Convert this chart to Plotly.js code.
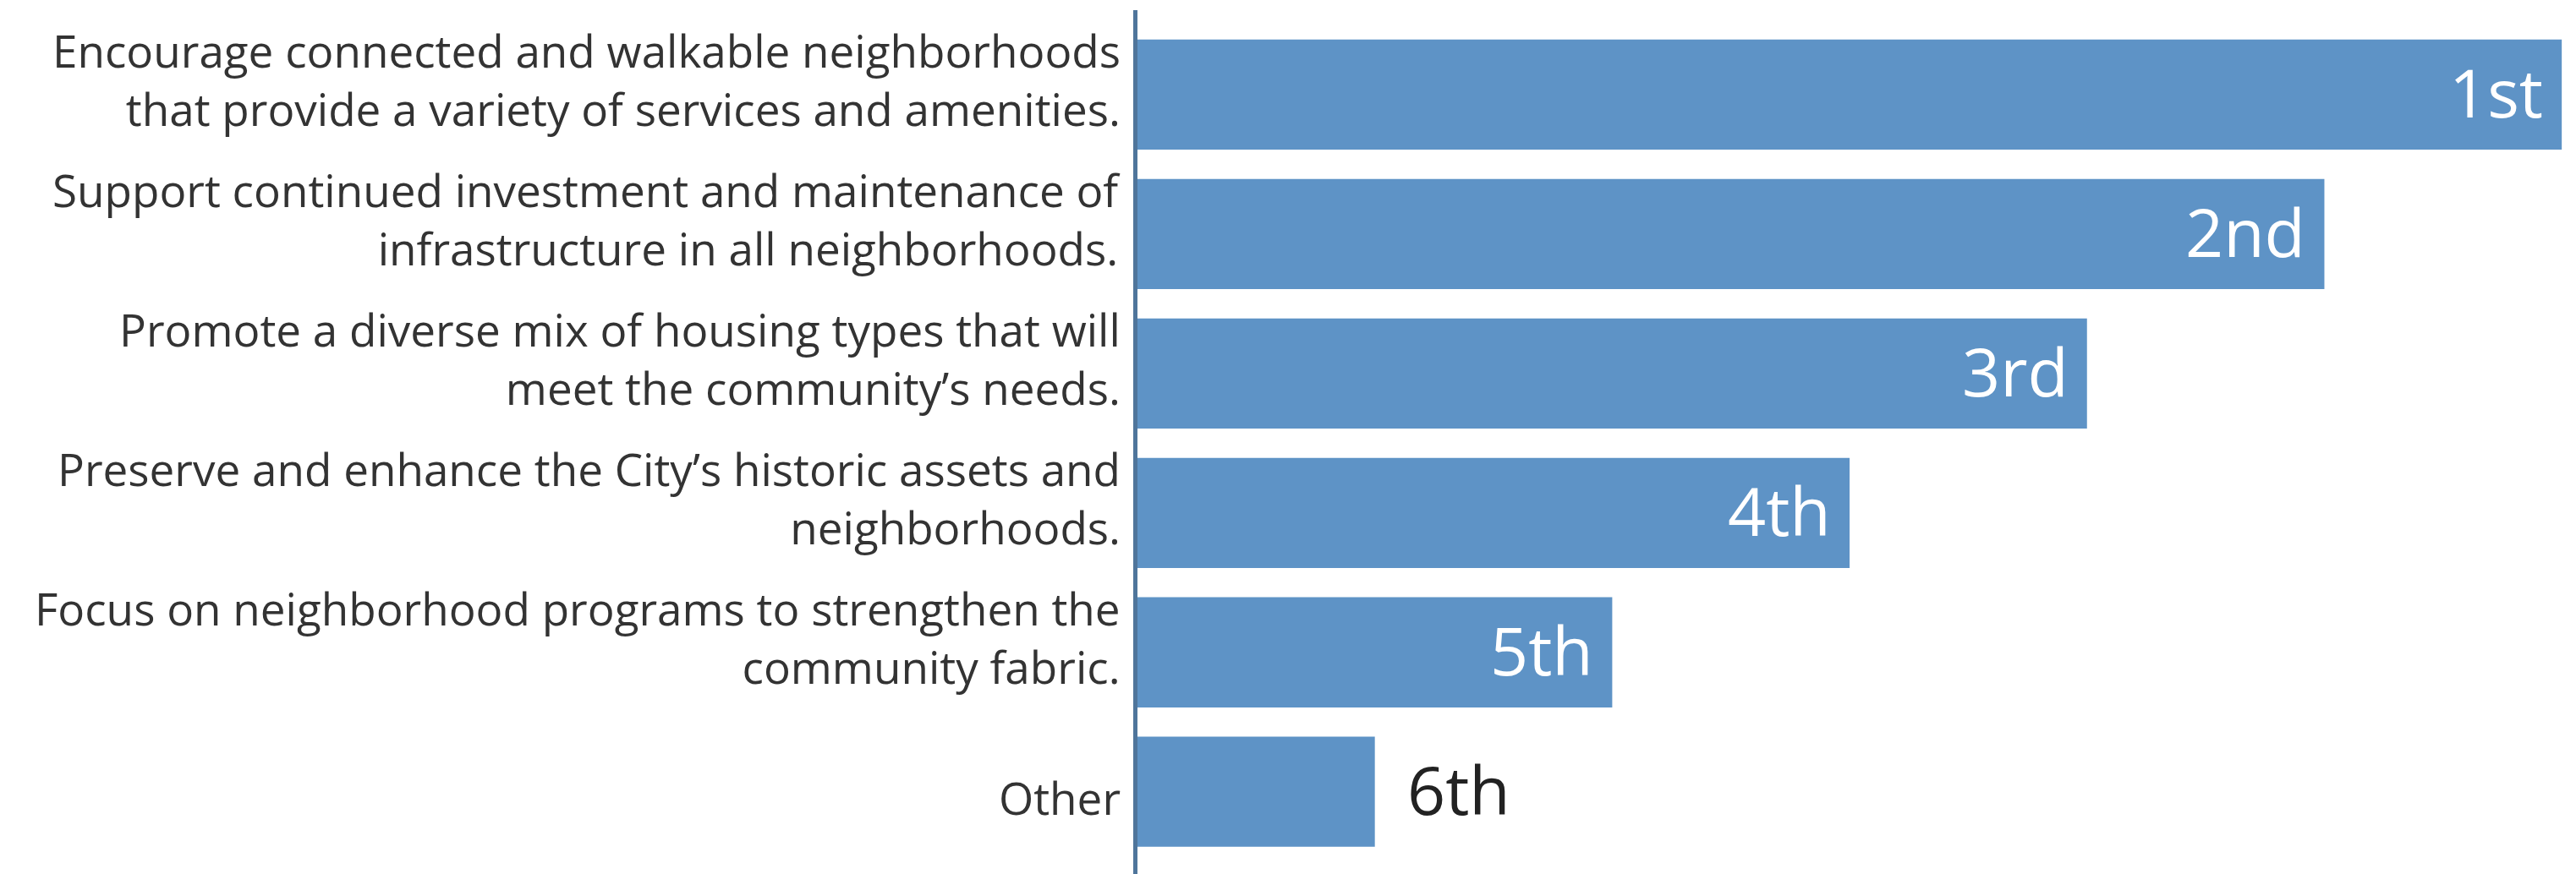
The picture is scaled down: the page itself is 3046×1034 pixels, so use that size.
<!DOCTYPE html>
<html>
<head>
<meta charset="utf-8">
<script src="https://cdn.plot.ly/plotly-3.0.1.min.js"></script>
<style>
  html, body { margin: 0; padding: 0; background: #ffffff; }
  #chart { width: 3046px; height: 1034px; }
</style>
</head>
<body>
<div id="chart"></div>
<script>
const categories = [
  "Encourage connected and walkable neighborhoods<br>that provide a variety of services and amenities.",
  "Support continued investment and maintenance of<br>infrastructure in all neighborhoods.",
  "Promote a diverse mix of housing types that will<br>meet the community’s needs.",
  "Preserve and enhance the City’s historic assets and<br>neighborhoods.",
  "Focus on neighborhood programs to strengthen the<br>community fabric.",
  "Other"
];
const scores = [6, 5, 4, 3, 2, 1];
const rankLabels = ["1st", "2nd", "3rd", "4th", "5th", "6th"];
const insideFlags = [true, true, true, true, true, false];

const FONT = "'Open Sans', 'Noto Sans', sans-serif";
const BAR_COLOR = "#5e93c6";

const trace = {
  type: "bar",
  orientation: "h",
  x: scores,
  y: categories,
  marker: { color: BAR_COLOR, line: { width: 0 } },
  hoverinfo: "none",
  showlegend: false
};

const annotations = [];
scores.forEach((v, i) => {
  annotations.push({
    x: v, y: categories[i], xref: "x", yref: "y",
    text: rankLabels[i], showarrow: false,
    xanchor: insideFlags[i] ? "right" : "left",
    xshift: insideFlags[i] ? -20 : 36,
    yshift: 3,
    font: { family: FONT, size: 79, color: insideFlags[i] ? "#ffffff" : "#222222" }
  });
});
categories.forEach((c) => {
  const multi = c.indexOf("<br>") >= 0;
  annotations.push({
    x: 0, y: c, xref: "paper", yref: "y",
    text: c, showarrow: false, align: "right",
    xanchor: "right", xshift: -18, yshift: multi ? 18 : -7,
    font: { family: FONT, size: 53, color: "#333333" }
  });
});

const layout = {
  width: 3046,
  height: 1034,
  margin: { l: 1345, r: 0, t: 12, b: 0, pad: 0 },
  paper_bgcolor: "#ffffff",
  plot_bgcolor: "#ffffff",
  bargap: 0.21,
  font: { family: FONT, color: "#333333" },
  xaxis: {
    range: [0, 6.06],
    showgrid: false, zeroline: false, showline: false,
    showticklabels: false, ticks: ""
  },
  yaxis: {
    type: "category",
    categoryorder: "array",
    categoryarray: categories,
    range: [5.59, -0.606],
    showgrid: false, zeroline: false,
    showline: true, linecolor: "#4f759b", linewidth: 5,
    ticks: "", showticklabels: false
  },
  annotations: annotations
};

Plotly.newPlot("chart", [trace], layout, { displayModeBar: false, staticPlot: true });
</script>
</body>
</html>
